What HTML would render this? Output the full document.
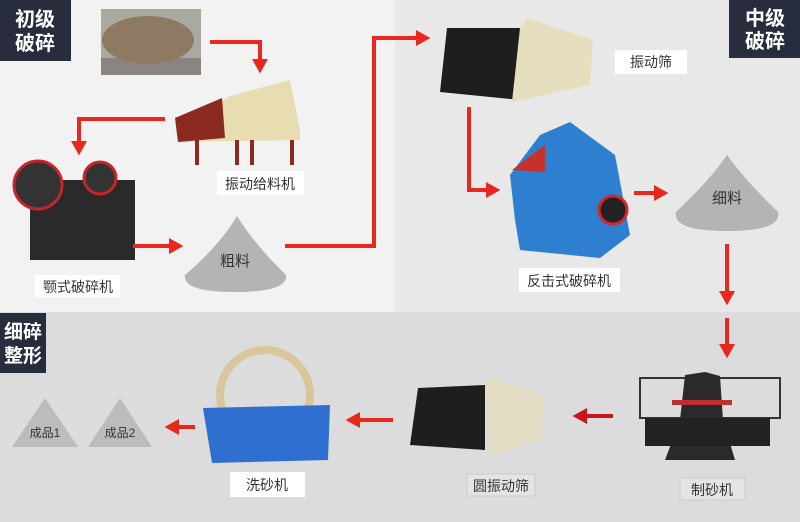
<!DOCTYPE html>
<html><head><meta charset="utf-8"><style>
body{margin:0;width:800px;height:522px;overflow:hidden;font-family:"Liberation Sans","Noto Sans CJK SC",sans-serif}
svg{display:block}
</style></head><body>
<svg width="800" height="522" viewBox="0 0 800 522" xmlns="http://www.w3.org/2000/svg" font-family="Liberation Sans, Noto Sans CJK SC, sans-serif">
<defs>
<marker id="ah" markerWidth="4" markerHeight="4" refX="0" refY="2" orient="auto" markerUnits="strokeWidth"><path d="M0,0 L3.6,2 L0,4 z" fill="#e8281e"/></marker>
<marker id="ah2" markerWidth="4" markerHeight="4" refX="0" refY="2" orient="auto" markerUnits="strokeWidth"><path d="M0,0 L3.6,2 L0,4 z" fill="#c8141a"/></marker>
</defs>
<rect x="0" y="0" width="395" height="312" fill="#f2f2f2"/>
<rect x="395" y="0" width="405" height="312" fill="#e8e8e8"/>
<rect x="0" y="312" width="800" height="210" fill="#dcdcdc"/>
<!-- stage labels -->
<rect x="0" y="0" width="71" height="61" fill="#272d3d"/>
<text x="35" y="26" fill="#fff" font-size="20" font-weight="bold" text-anchor="middle">初级</text>
<text x="35" y="50" fill="#fff" font-size="20" font-weight="bold" text-anchor="middle">破碎</text>
<rect x="729" y="0" width="71" height="58" fill="#272d3d"/>
<text x="765" y="25" fill="#fff" font-size="20" font-weight="bold" text-anchor="middle">中级</text>
<text x="765" y="48" fill="#fff" font-size="20" font-weight="bold" text-anchor="middle">破碎</text>
<rect x="0" y="313" width="46" height="60" fill="#272d3d"/>
<text x="23" y="338" fill="#fff" font-size="19" font-weight="bold" text-anchor="middle">细碎</text>
<text x="23" y="362" fill="#fff" font-size="19" font-weight="bold" text-anchor="middle">整形</text>
<!-- rock photo -->
<rect x="101" y="9" width="100" height="66" fill="#a9a9a0"/>
<rect x="101" y="58" width="100" height="17" fill="#8a8580"/>
<ellipse cx="148" cy="40" rx="46" ry="24" fill="#8e7a62"/>
<!-- feeder -->
<polygon points="175,130 230,96 290,80 300,130 300,140 180,142" fill="#e8ddb0"/>
<polygon points="175,118 222,98 225,138 178,142" fill="#8a2a20"/>
<rect x="195" y="140" width="4" height="25" fill="#8a2a20"/><rect x="235" y="140" width="4" height="25" fill="#8a2a20"/><rect x="250" y="140" width="4" height="25" fill="#8a2a20"/><rect x="290" y="140" width="4" height="25" fill="#8a2a20"/>
<rect x="217" y="171" width="87" height="24" fill="#fff"/>
<text x="260" y="189" font-size="14" fill="#333" text-anchor="middle">振动给料机</text>
<!-- jaw crusher -->
<rect x="30" y="180" width="105" height="80" fill="#2a2a2a"/>
<circle cx="38" cy="185" r="24" fill="#333" stroke="#c8252a" stroke-width="3"/>
<circle cx="100" cy="178" r="16" fill="#333" stroke="#c8252a" stroke-width="3"/>
<rect x="35" y="275" width="85" height="22" fill="#fff"/>
<text x="78" y="292" font-size="14" fill="#333" text-anchor="middle">颚式破碎机</text>
<!-- pile coarse -->
<path d="M237,216 Q220,245 185,275 Q182,292 235,292 Q288,292 286,275 Q255,245 237,216z" fill="#b4b4b4"/>
<text x="235" y="266" font-size="15" fill="#333" text-anchor="middle">粗料</text>
<!-- vibrating screen -->
<polygon points="447,28 520,28 520,100 440,92" fill="#1e1e1e"/>
<polygon points="520,28 527,18 593,40 590,85 512,102" fill="#e6dfbf"/>
<rect x="615" y="50" width="72" height="24" fill="#fff"/>
<text x="651" y="67" font-size="14" fill="#333" text-anchor="middle">振动筛</text>
<!-- impact crusher -->
<polygon points="510,175 540,135 570,122 615,155 630,235 600,258 520,250 515,220" fill="#2f7fd0"/>
<polygon points="512,170 545,145 545,172" fill="#c8302a"/>
<circle cx="613" cy="210" r="14" fill="#222" stroke="#d0282a" stroke-width="3"/>
<rect x="519" y="268" width="101" height="24" fill="#fff"/>
<text x="569" y="286" font-size="14" fill="#333" text-anchor="middle">反击式破碎机</text>
<!-- pile fine -->
<path d="M727,155 Q710,180 676,212 Q672,231 727,231 Q782,231 778,212 Q745,180 727,155z" fill="#b4b4b4"/>
<text x="727" y="203" font-size="15" fill="#333" text-anchor="middle">细料</text>
<!-- VSI -->
<rect x="640" y="378" width="140" height="40" fill="none" stroke="#333" stroke-width="2"/>
<polygon points="685,375 705,372 720,376 723,420 735,460 665,460 680,420" fill="#2a2a2a"/>
<rect x="672" y="400" width="60" height="5" fill="#c03030"/>
<rect x="645" y="418" width="125" height="28" fill="#222"/>
<rect x="680" y="478" width="65" height="22" fill="#e4e4e4" stroke="#ccc"/>
<text x="712" y="495" font-size="14" fill="#333" text-anchor="middle">制砂机</text>
<!-- circular screen -->
<polygon points="418,388 485,385 485,450 410,445" fill="#1e1e1e"/>
<polygon points="485,385 490,378 545,395 540,440 490,455" fill="#e3ddc4"/>
<rect x="467" y="474" width="68" height="22" fill="#e4e4e4" stroke="#ccc"/>
<text x="501" y="491" font-size="14" fill="#333" text-anchor="middle">圆振动筛</text>
<!-- washer -->
<circle cx="265" cy="395" r="45" fill="none" stroke="#d8c79a" stroke-width="8"/>
<polygon points="203,408 330,405 328,460 212,463" fill="#2e6fcf"/>
<rect x="230" y="472" width="75" height="25" fill="#fff"/>
<text x="267" y="490" font-size="14" fill="#333" text-anchor="middle">洗砂机</text>
<!-- products -->
<polygon points="45,398 78,447 12,447" fill="#bcbcbc"/>
<text x="45" y="437" font-size="12" fill="#333" text-anchor="middle">成品1</text>
<polygon points="120,398 152,447 88,447" fill="#bcbcbc"/>
<text x="120" y="437" font-size="12" fill="#333" text-anchor="middle">成品2</text>
<!-- arrows -->
<g stroke="#e8281e" stroke-width="4" fill="none">
<polyline points="210,42 260,42 260,59" marker-end="url(#ah)"/>
<polyline points="165,119 79,119 79,141" marker-end="url(#ah)"/>
<polyline points="133,246 169,246" marker-end="url(#ah)"/>
<polyline points="285,246 374,246 374,38 416,38" marker-end="url(#ah)"/>
<polyline points="469,107 469,190 486,190" marker-end="url(#ah)"/>
<polyline points="634,193 654,193" marker-end="url(#ah)"/>
<polyline points="727,244 727,291" marker-end="url(#ah)"/>
<polyline points="727,318 727,344" marker-end="url(#ah)"/>
<polyline points="613,416 587,416" marker-end="url(#ah2)" stroke="#c8141a"/>
<polyline points="393,420 360,420" marker-end="url(#ah)"/>
<polyline points="195,427 179,427" marker-end="url(#ah)"/>
</g>
</svg>
</body></html>
